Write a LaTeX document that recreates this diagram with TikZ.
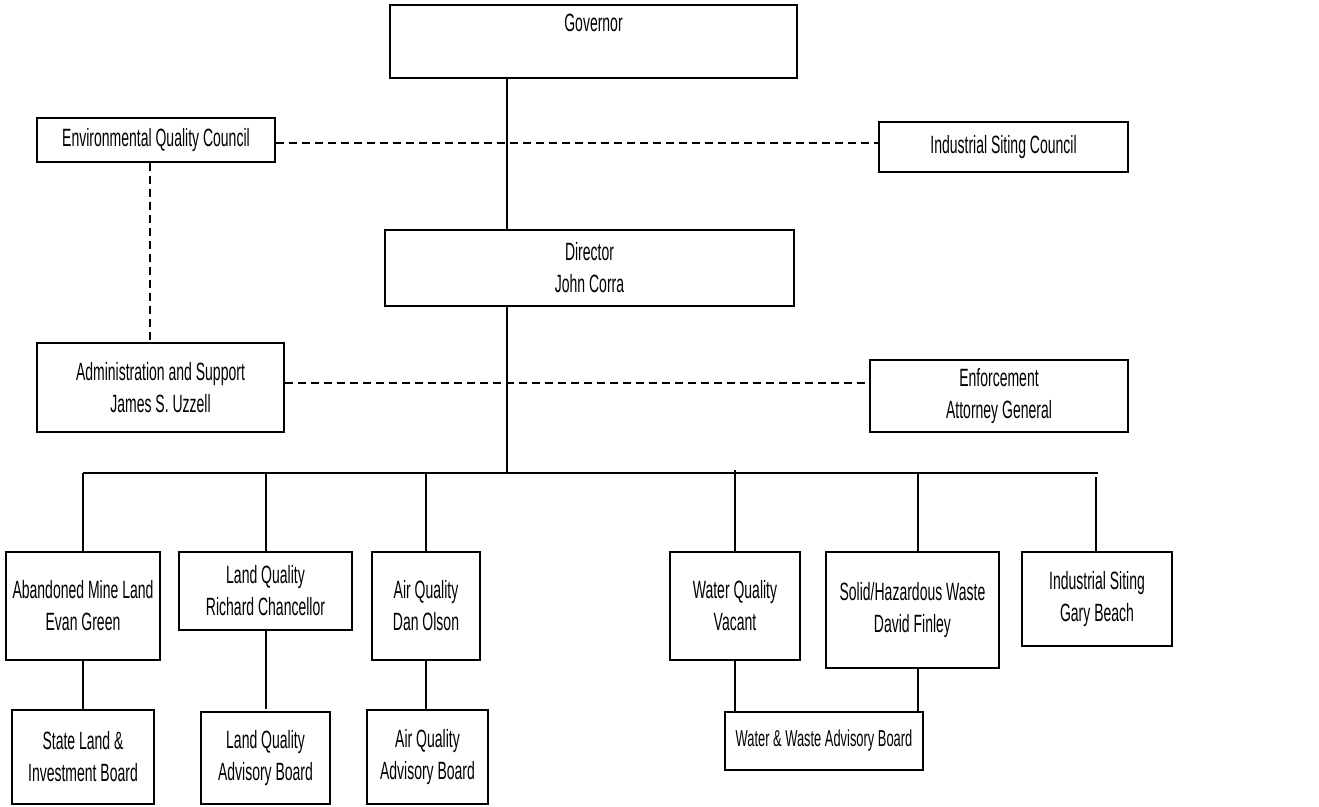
\documentclass[tikz,border=0pt]{standalone}
\usepackage{fontspec}
\setmainfont[FakeStretch=0.56]{Liberation Sans}
\begin{document}
\begin{tikzpicture}[x=1pt,y=-1pt,
  box/.style={draw, line width=1.8pt, inner sep=0pt, align=center,
    font=\fontsize{25}{32}\selectfont},
  link/.style={line width=1.8pt},
  dashlink/.style={line width=1.5pt, dash pattern=on 8pt off 5pt}]
\useasboundingbox (0,0) rectangle (1319,806);

% top level
\node[box, minimum width=407pt, minimum height=73pt] (gov) at (593.5,41.5) {\strut Governor\\\strut};
\node[box, minimum width=238pt, minimum height=44pt] (eqc) at (156,140) {Environmental Quality Council};
\node[box, minimum width=249pt, minimum height=50pt] (isc) at (1003.5,147) {Industrial Siting Council};
\node[box, minimum width=409pt, minimum height=76pt] (dir) at (589.5,268) {Director\\John Corra};
\node[box, minimum width=247pt, minimum height=89pt] (adm) at (160.5,387.5) {Administration and Support\\James S. Uzzell};
\node[box, minimum width=258pt, minimum height=72pt] (enf) at (999,396) {Enforcement\\Attorney General};

% divisions
\node[box, minimum width=154pt, minimum height=108pt] (aml) at (83,606) {Abandoned Mine Land\\Evan Green};
\node[box, minimum width=173pt, minimum height=78pt] (lq) at (265.5,591) {Land Quality\\Richard Chancellor};
\node[box, minimum width=108pt, minimum height=108pt] (aq) at (426,606) {Air Quality\\Dan Olson};
\node[box, minimum width=130pt, minimum height=108pt] (wq) at (735,606) {Water Quality\\Vacant};
\node[box, minimum width=173pt, minimum height=116pt] (shw) at (912.5,610) {Solid/Hazardous Waste\\David Finley};
\node[box, minimum width=150pt, minimum height=94pt] (ins) at (1097,599) {Industrial Siting\\Gary Beach};

% boards
\node[box, minimum width=142pt, minimum height=94pt] (slib) at (83,757) {State Land \&\\Investment Board};
\node[box, minimum width=129pt, minimum height=92pt] (lqab) at (265.5,758) {Land Quality\\Advisory Board};
\node[box, minimum width=121pt, minimum height=94pt] (aqab) at (427.5,757) {Air Quality\\Advisory Board};
\node[box, minimum width=198pt, minimum height=58pt, font=\fontsize{23}{30}\selectfont] (wwab) at (824,741) {Water \& Waste Advisory Board};

% routing coordinates
\coordinate (spine) at (507,0);
\coordinate (cline) at (0,143);
\coordinate (eline) at (150,0);
\coordinate (aline) at (0,383);
\coordinate (busL) at (83,473);
\coordinate (busR) at (1098,473);
\coordinate (wqTop) at (735,470);
\coordinate (shwx) at (918,0);
\coordinate (insTop) at (1096,477);
\coordinate (lqx) at (266,0);
\coordinate (lqEnd) at (266,709);

% reporting lines
\draw[link] (spine |- gov.south) -- (spine |- dir.north);
\draw[link] (spine |- dir.south) -- (spine |- busL);
\draw[link] (busL) -- (busR);
\draw[link] (aml.north) -- (aml.north |- busL);
\draw[link] (lqx |- lq.north) -- (lqx |- busL);
\draw[link] (aq.north) -- (aq.north |- busL);
\draw[link] (wq.north) -- (wqTop);
\draw[link] (shwx |- shw.north) -- (shwx |- busL);
\draw[link] (insTop |- ins.north) -- (insTop);

\draw[link] (aml.south) -- (slib.north);
\draw[link] (lqx |- lq.south) -- (lqEnd);
\draw[link] (aq.south) -- (aq.south |- aqab.north);
\draw[link] (wq.south) -- (wq.south |- wwab.north);
\draw[link] (shwx |- shw.south) -- (shwx |- wwab.north);

% advisory links
\draw[dashlink] (eqc.east |- cline) -- (isc.west |- cline);
\draw[dashlink] (eline |- eqc.south) -- (eline |- adm.north);
\draw[dashlink] (adm.east |- aline) -- (enf.west |- aline);
\end{tikzpicture}
\end{document}
